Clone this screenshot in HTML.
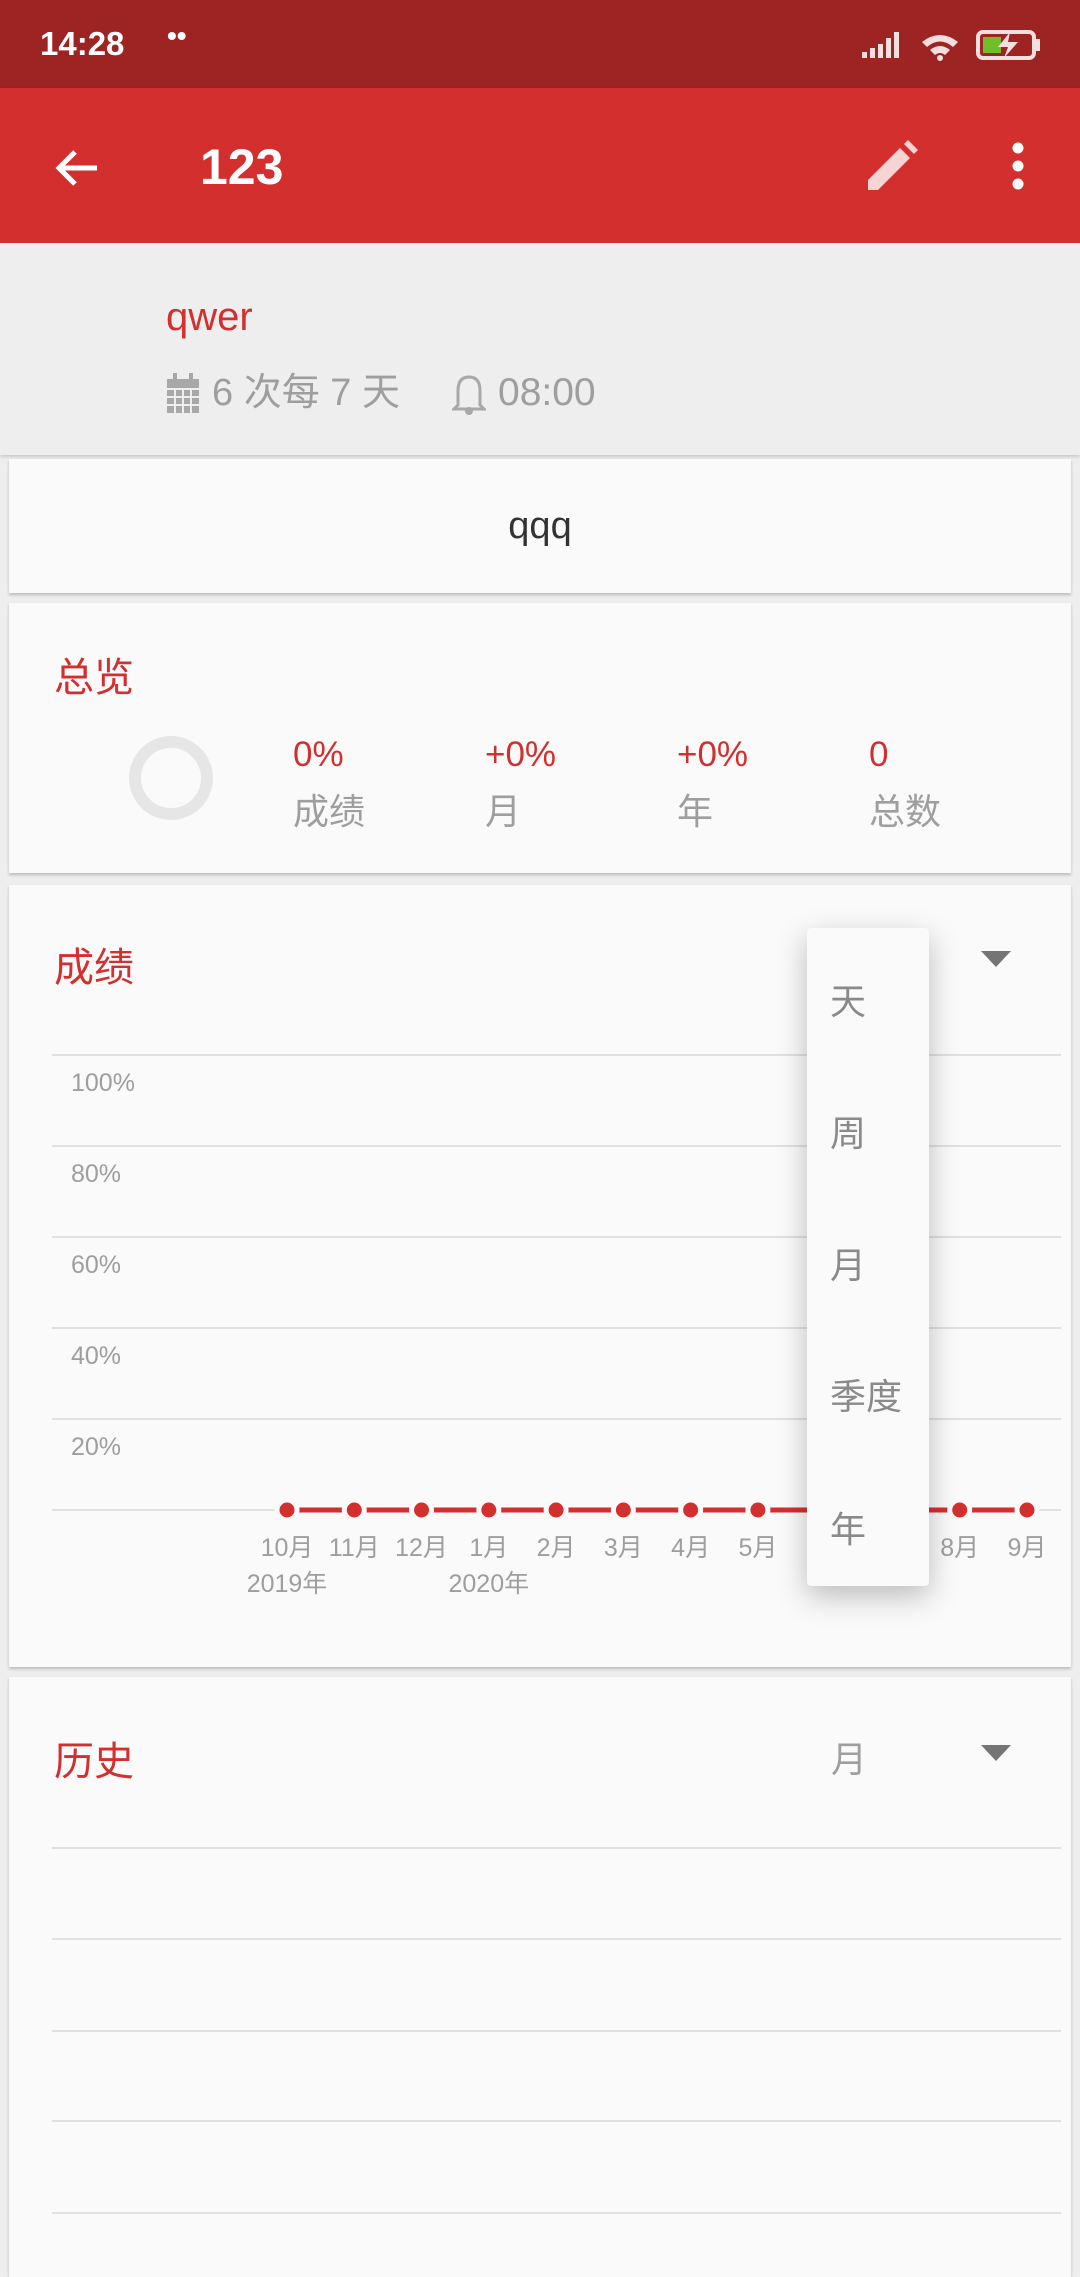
<!DOCTYPE html>
<html><head><meta charset="utf-8">
<style>
*{margin:0;padding:0;box-sizing:border-box}
body{width:1080px;height:2248px;overflow:hidden;background:#eeeeee;font-family:"Liberation Sans","Noto Sans CJK SC",sans-serif;position:relative}
.abs{position:absolute}
.card{position:absolute;left:9px;width:1062px;background:#fafafa;box-shadow:0 2px 3px rgba(0,0,0,0.22)}
.red{color:#d32f2f}
.gray{color:#9e9e9e}
</style></head><body>
<div class="abs" style="left:0;top:0;width:1080px;height:88px;background:#9e2323">
  <div class="abs" style="left:40px;top:25px;color:#fff;font-size:33px;font-weight:bold">14:28</div>
  <div class="abs" style="left:167px;top:20px;color:#fff;font-size:28px;font-weight:bold">••</div>
  <svg class="abs" style="left:858px;top:28px" width="190" height="36">
    <g fill="#f4dede"><rect x="4" y="24" width="5" height="6"/><rect x="12" y="20" width="5" height="10"/><rect x="20" y="16" width="5" height="14"/><rect x="28" y="10" width="5" height="20"/><rect x="36" y="4" width="5" height="26"/></g>
    <path d="M64 14 Q82 0 100 14 L95 19 Q82 8 69 19Z M72 22 Q82 14 92 22 L87 27 Q82 23 77 27Z" fill="#f4dede"/><circle cx="82" cy="30" r="3" fill="#f4dede"/>
    <rect x="120" y="4" width="56" height="26" rx="5" fill="none" stroke="#f4dede" stroke-width="4"/><rect x="125" y="9" width="18" height="16" fill="#6fbf2a"/><rect x="178" y="11" width="4" height="12" fill="#f4dede"/>
    <path d="M152 4 L140 19 L150 19 L146 30 L160 14 L150 14Z" fill="#f4dede"/>
  </svg>
</div>
<div class="abs" style="left:0;top:88px;width:1080px;height:155px;background:#d32f2f;box-shadow:0 2px 4px rgba(0,0,0,0.25)">
  <svg class="abs" style="left:53px;top:56px" width="48" height="48"><path d="M44 24 H8 M22 8 L6 24 L22 40" stroke="#fff" stroke-width="5" fill="none"/></svg>
  <div class="abs" style="left:200px;top:50px;color:#fff;font-size:50px;font-weight:bold">123</div>
  <svg class="abs" style="left:864px;top:50px" width="56" height="56"><path d="M4 52 L4 42 L36 10 L46 20 L14 52Z" fill="#f6d4d4"/><path d="M40 6 L44 2 L54 12 L50 16Z" fill="#f6d4d4"/></svg>
  <svg class="abs" style="left:1008px;top:54px" width="20" height="50"><circle cx="10" cy="6" r="5.5" fill="#fff"/><circle cx="10" cy="24" r="5.5" fill="#fff"/><circle cx="10" cy="42" r="5.5" fill="#fff"/></svg>
</div>
<div class="abs" style="left:0;top:243px;width:1080px;height:212px;background:#eeeeee;box-shadow:0 2px 3px rgba(0,0,0,0.15)">
  <div class="abs red" style="left:166px;top:52px;font-size:40px">qwer</div>
  <svg class="abs" style="left:165px;top:130px" width="36" height="42"><rect x="2" y="6" width="32" height="34" fill="#a8a8a8"/><g stroke="#eee" stroke-width="2"><path d="M2 16H34M2 24H34M2 32H34M10 16V40M18 16V40M26 16V40"/></g><rect x="8" y="0" width="4" height="10" fill="#a8a8a8"/><rect x="24" y="0" width="4" height="10" fill="#a8a8a8"/></svg>
  <div class="abs gray" style="left:212px;top:127px;font-size:38px;line-height:46px">6 次每 7 天</div>
  <svg class="abs" style="left:452px;top:130px" width="34" height="42"><path d="M6 32 L6 18 Q6 4 17 4 Q28 4 28 18 L28 32 L32 36 L2 36Z" fill="none" stroke="#a8a8a8" stroke-width="3"/><circle cx="17" cy="38" r="4" fill="#a8a8a8"/></svg>
  <div class="abs gray" style="left:498px;top:127px;font-size:39px;line-height:46px">08:00</div>
</div>
<div class="card" style="top:459px;height:134px">
  <div class="abs" style="left:0;width:1062px;text-align:center;top:46px;font-size:38px;color:#333">qqq</div>
</div>
<div class="card" style="top:603px;height:270px">
  <div class="abs red" style="left:45px;top:42px;font-size:40px">总览</div>
  <svg class="abs" style="left:120px;top:133px" width="84" height="84"><circle cx="42" cy="42" r="36" fill="none" stroke="#e6e6e6" stroke-width="12"/></svg>
  <div class="abs red" style="left:284px;top:132px;font-size:35px">0%</div>
  <div class="abs gray" style="left:284px;top:180px;font-size:36px">成绩</div>
  <div class="abs red" style="left:476px;top:132px;font-size:35px">+0%</div>
  <div class="abs gray" style="left:476px;top:180px;font-size:36px">月</div>
  <div class="abs red" style="left:668px;top:132px;font-size:35px">+0%</div>
  <div class="abs gray" style="left:668px;top:180px;font-size:36px">年</div>
  <div class="abs red" style="left:860px;top:132px;font-size:35px">0</div>
  <div class="abs gray" style="left:860px;top:180px;font-size:36px">总数</div>
</div>
<div class="card" style="top:885px;height:782px">
  <div class="abs red" style="left:45px;top:50px;font-size:40px">成绩</div>
  <svg class="abs" style="left:972px;top:66px" width="30" height="20"><path d="M0 0 H30 L15 16Z" fill="#757575"/></svg>
</div>
<svg id="chart" class="abs" style="left:0;top:0" width="1080" height="1660"></svg>
<div class="abs" style="left:807px;top:928px;width:122px;height:658px;background:#fafafa;border-radius:4px;box-shadow:0 10px 30px rgba(0,0,0,0.25)">
  <div class="abs gray" style="left:23px;top:45px;font-size:36px;color:#8a8a8a">天</div>
  <div class="abs gray" style="left:23px;top:177px;font-size:36px;color:#8a8a8a">周</div>
  <div class="abs gray" style="left:23px;top:309px;font-size:36px;color:#8a8a8a">月</div>
  <div class="abs gray" style="left:23px;top:440px;font-size:36px;color:#8a8a8a">季度</div>
  <div class="abs gray" style="left:23px;top:573px;font-size:36px;color:#8a8a8a">年</div>
</div>
<div class="card" style="top:1677px;height:600px">
  <div class="abs red" style="left:45px;top:52px;font-size:40px">历史</div>
  <div class="abs gray" style="left:822px;top:54px;font-size:36px">月</div>
  <svg class="abs" style="left:972px;top:68px" width="30" height="20"><path d="M0 0 H30 L15 16Z" fill="#757575"/></svg>
  <svg class="abs" style="left:0;top:0" width="1062" height="600">
    <g stroke="#e0e0e0" stroke-width="2"><line x1="43" x2="1052" y1="171" y2="171"/><line x1="43" x2="1052" y1="262" y2="262"/><line x1="43" x2="1052" y1="354" y2="354"/><line x1="43" x2="1052" y1="444" y2="444"/><line x1="43" x2="1052" y1="536" y2="536"/></g>
  </svg>
</div>
<script>
const months=["10月","11月","12月","1月","2月","3月","4月","5月","6月","7月","8月","9月"];
const yearLabels=["2019年","","","2020年","","","","","","","",""];
const scores=[0,0,0,0,0,0,0,0,0,0,0,0];
const yTicks=[100,80,60,40,20,0];
const svg=document.getElementById('chart');
const NS='http://www.w3.org/2000/svg';
const X0=287,X1=1027,Y0=1510,Y100=1055,GL=52,GR=1061;
function xs(i){return X0+(X1-X0)*i/(months.length-1);}
function ys(v){return Y0-(Y0-Y100)*v/100;}
function mk(t,a){const e=document.createElementNS(NS,t);for(const k in a)e.setAttribute(k,a[k]);svg.appendChild(e);return e;}
yTicks.forEach(v=>{
  const l=mk('line',{x1:GL,x2:GR,y1:ys(v),y2:ys(v),stroke:'#e0e0e0','stroke-width':2});
  
  
  if(v>0){const t=mk('text',{x:71,y:ys(v)+36,fill:'#9e9e9e','font-size':25,'font-family':'Liberation Sans, sans-serif'});t.textContent=v+'%';
  
  }
});
for(let i=0;i<scores.length-1;i++){
  const l=mk('line',{x1:xs(i),x2:xs(i+1),y1:ys(scores[i]),y2:ys(scores[i+1]),stroke:'#d32f2f','stroke-width':5});
  
  
}
scores.forEach((v,i)=>{
  const c=mk('circle',{cx:xs(i),cy:ys(v),r:10,fill:'#d32f2f',stroke:'#fafafa','stroke-width':5});
  
  
  const t=mk('text',{x:xs(i),y:1556,fill:'#9e9e9e','font-size':25,'text-anchor':'middle','font-family':'Liberation Sans, Noto Sans CJK SC, sans-serif'});t.textContent=months[i];
  
  
  if(yearLabels[i]){const y=mk('text',{x:xs(i),y:1592,fill:'#9e9e9e','font-size':25,'text-anchor':'middle','font-family':'Liberation Sans, Noto Sans CJK SC, sans-serif'});y.textContent=yearLabels[i];
  
  }
});
</script>
</body></html>
